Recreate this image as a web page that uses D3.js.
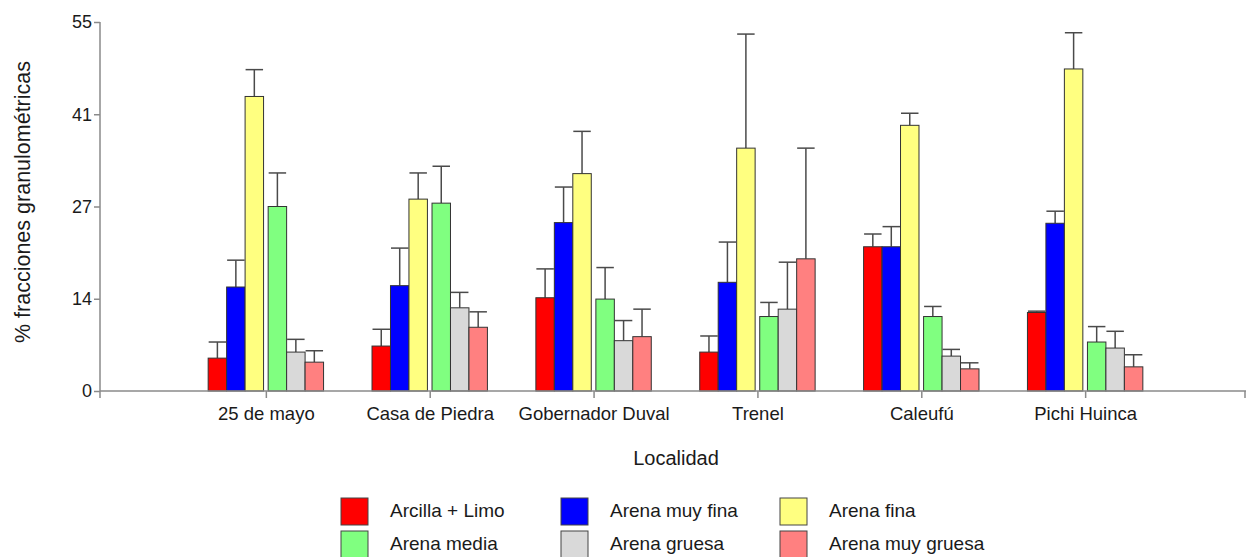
<!DOCTYPE html>
<html>
<head>
<meta charset="utf-8">
<script src="https://cdn.jsdelivr.net/npm/d3@7"></script>
<style>
  html, body { margin: 0; padding: 0; background: #fff; }
  svg { display: block; font-family: "Liberation Sans", Arial, sans-serif; }
</style>
</head>
<body>
<svg id="chart" width="1250" height="557"></svg>
<script>
// ---- data ----
const categories = ["25 de mayo", "Casa de Piedra", "Gobernador Duval", "Trenel", "Caleufú", "Pichi Huinca"];
const seriesNames = ["Arcilla + Limo", "Arena muy fina", "Arena fina", "Arena media", "Arena gruesa", "Arena muy gruesa"];
const seriesColors = ["#ff0000", "#0000ff", "#ffff80", "#80ff80", "#d9d9d9", "#ff8080"];

// mean values per series (one value per locality)
const arcillaLimo    = [4.9, 6.7, 13.9, 5.8, 21.5, 11.7];
const arenaMuyFina   = [15.5, 15.7, 25.1, 16.2, 21.5, 25.0];
const arenaFina      = [43.9, 28.6, 32.4, 36.2, 39.6, 48.0];
const arenaMedia     = [27.5, 28.0, 13.7, 11.1, 11.1, 7.3];
const arenaGruesa    = [5.8, 12.4, 7.5, 12.2, 5.2, 6.4];
const arenaMuyGruesa = [4.3, 9.5, 8.1, 19.7, 3.3, 3.6];

// upper error (standard deviation) per series
const errArcillaLimo    = [2.4, 2.5, 4.3, 2.4, 1.9, 0.2];
const errArenaMuyFina   = [4.0, 5.6, 5.3, 6.0, 3.0, 1.8];
const errArenaFina      = [4.0, 3.9, 6.3, 17.0, 1.8, 5.4];
const errArenaMedia     = [5.0, 5.5, 4.7, 2.1, 1.5, 2.3];
const errArenaGruesa    = [1.9, 2.3, 3.0, 7.0, 1.0, 2.5];
const errArenaMuyGruesa = [1.7, 2.3, 4.1, 16.5, 0.9, 1.8];

const yTickValues = [0, 13.75, 27.5, 41.25, 55];
const yTickLabels = ["0", "14", "27", "41", "55"];

const xTitle = "Localidad";
const yTitle = "% fracciones granulométricas";

const values = [arcillaLimo, arenaMuyFina, arenaFina, arenaMedia, arenaGruesa, arenaMuyGruesa];
const errors = [errArcillaLimo, errArenaMuyFina, errArenaFina, errArenaMedia, errArenaGruesa, errArenaMuyGruesa];

// ---- build ----
const svg = d3.select("#chart");
const axisColor = "#8a8a8a";
const textColor = "#1a1a1a";

const y = d3.scaleLinear().domain([0, 55]).range([391, 22]);
const x = d3.scalePoint().domain(categories).range([102, 1249]).padding(1);

const gapMid = 4.6;
const inner = d3.scaleBand().domain(seriesNames).range([-57.7, 57.7 - gapMid]).padding(0);
const bw = inner.bandwidth();
const barX = (cat, s, i) => x(cat) + inner(s) + (i >= 3 ? gapMid : 0);

const records = [];
categories.forEach((c, ci) => {
  seriesNames.forEach((s, si) => {
    records.push({cat: c, series: s, si: si, v: values[si][ci], e: errors[si][ci]});
  });
});

// error bars
const eg = svg.append("g").attr("stroke", "#4a4a4a").attr("stroke-width", 1.5);
eg.selectAll("line.v").data(records).join("line")
  .attr("class", "v")
  .attr("x1", d => barX(d.cat, d.series, d.si) + bw / 2)
  .attr("x2", d => barX(d.cat, d.series, d.si) + bw / 2)
  .attr("y1", d => y(d.v))
  .attr("y2", d => y(d.v + d.e));
eg.selectAll("line.c").data(records).join("line")
  .attr("class", "c")
  .attr("x1", d => barX(d.cat, d.series, d.si) + 0.5)
  .attr("x2", d => barX(d.cat, d.series, d.si) + bw - 0.5)
  .attr("y1", d => y(d.v + d.e))
  .attr("y2", d => y(d.v + d.e));

// bars
svg.append("g").selectAll("rect").data(records).join("rect")
  .attr("x", d => barX(d.cat, d.series, d.si))
  .attr("y", d => y(d.v))
  .attr("width", bw)
  .attr("height", d => y(0) - y(d.v))
  .attr("fill", d => seriesColors[d.si])
  .attr("stroke", "#333")
  .attr("stroke-width", 1);

// y axis
const yAxis = svg.append("g").attr("transform", "translate(100,0)")
  .call(d3.axisLeft(y).tickValues(yTickValues).tickFormat((d, i) => yTickLabels[i]).tickSize(6).tickPadding(2));
yAxis.select(".domain").remove();
yAxis.append("line").attr("x1", 0).attr("x2", 0).attr("y1", 22).attr("y2", 398)
  .attr("stroke", axisColor).attr("stroke-width", 1.5);
yAxis.selectAll(".tick line").attr("stroke", axisColor).attr("stroke-width", 1.5);
yAxis.selectAll(".tick text").attr("fill", textColor).style("font-size", "18px");

// x axis
const xAxis = svg.append("g").attr("transform", "translate(0,391)")
  .call(d3.axisBottom(x).tickSize(7).tickSizeOuter(0).tickPadding(9));
xAxis.select(".domain").remove();
xAxis.append("line").attr("x1", 100).attr("x2", 1246).attr("y1", 0).attr("y2", 0)
  .attr("stroke", axisColor).attr("stroke-width", 1.5);
xAxis.append("line").attr("x1", 1245).attr("x2", 1245).attr("y1", 0).attr("y2", 7)
  .attr("stroke", axisColor).attr("stroke-width", 1.5);
xAxis.selectAll(".tick line").attr("stroke", axisColor).attr("stroke-width", 1.5);
xAxis.selectAll(".tick text").attr("fill", textColor).style("font-size", "18.5px");

// titles
svg.append("text").attr("x", 676).attr("y", 465).attr("text-anchor", "middle")
  .attr("fill", textColor).style("font-size", "20px").text(xTitle);
svg.append("text").attr("transform", "translate(30,202) rotate(-90)").attr("text-anchor", "middle")
  .attr("fill", textColor).style("font-size", "21.5px").text(yTitle);

// legend
const legCols = [341, 561, 780];
const legRows = [498, 531];
const lg = svg.append("g");
seriesNames.forEach((s, i) => {
  const lx = legCols[i % 3], ly = legRows[Math.floor(i / 3)];
  lg.append("rect").attr("x", lx).attr("y", ly).attr("width", 27).attr("height", 27)
    .attr("fill", seriesColors[i]).attr("stroke", "#444").attr("stroke-width", 1);
  lg.append("text").attr("x", lx + 49).attr("y", ly + 19).attr("fill", textColor)
    .style("font-size", "19px").text(s);
});
</script>
</body>
</html>
